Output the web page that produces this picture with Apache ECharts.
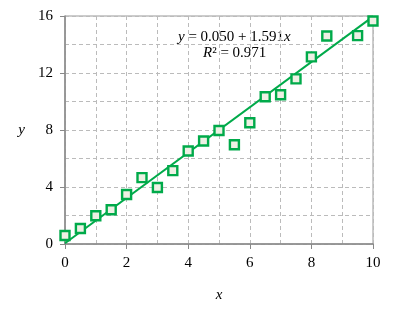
<!DOCTYPE html>
<html><head><meta charset="utf-8">
<script src="https://cdn.jsdelivr.net/npm/echarts@6/dist/echarts.min.js"></script>
<style>html,body{margin:0;padding:0;background:#fff}#c{width:396px;height:319px}</style>
</head><body><div id="c"></div>
<script>
const xValues = [0,0.5,1,1.5,2,2.5,3,3.5,4,4.5,5,5.5,6,6.5,7,7.5,8,8.5,9.5,10];
const yValues = [0.60,1.09,1.98,2.40,3.47,4.66,3.96,5.15,6.53,7.23,7.96,6.97,8.51,10.33,10.47,11.59,13.13,14.60,14.62,15.65];
const fitX = [0,10];
const fitY = [0.050,15.96];
const xTicks = [0,2,4,6,8,10];
const yTicks = [0,4,8,12,16];
const green = '#00aa4a';
const font = '"Liberation Serif","Times New Roman",serif';
const chart = echarts.init(document.getElementById('c'));
chart.setOption({
  animation:false,
  grid:{left:65,right:23,top:16,bottom:75,show:true,borderColor:'#999',borderWidth:1,backgroundColor:'transparent'},
  xAxis:{type:'value',min:0,max:10,interval:2,
    axisLine:{show:true,lineStyle:{color:'#888',width:1.5}},
    axisTick:{show:true,length:5,lineStyle:{color:'#888'}},
    axisLabel:{color:'#000',fontFamily:font,fontSize:15,margin:12,formatter:v=>xTicks.includes(v)?String(v):''},
    splitLine:{show:true,lineStyle:{color:'#bbb',type:[4,3]}},
    minorTick:{show:false,splitNumber:2},
    minorSplitLine:{show:true,lineStyle:{color:'#bbb',type:[4,3]}},
    name:'x',nameLocation:'middle',nameGap:44,nameTextStyle:{fontFamily:font,fontStyle:'italic',fontSize:15,color:'#000'}
  },
  yAxis:{type:'value',min:0,max:16,interval:4,
    axisLine:{show:true,lineStyle:{color:'#888',width:1.5}},
    axisTick:{show:true,length:5,lineStyle:{color:'#888'}},
    axisLabel:{color:'#000',fontFamily:font,fontSize:15,margin:12,formatter:v=>yTicks.includes(v)?String(v):''},
    splitLine:{show:true,lineStyle:{color:'#bbb',type:[4,3]}},
    minorTick:{show:false,splitNumber:2},
    minorSplitLine:{show:true,lineStyle:{color:'#bbb',type:[4,3]}},
    name:'y',nameLocation:'middle',nameGap:40,nameRotate:0,nameTextStyle:{fontFamily:font,fontStyle:'italic',fontSize:15,color:'#000'}
  },
  graphic:[
    {type:'text',x:178,y:30,style:{text:'{i|y} = 0.050 + 1.591{i|x}',rich:{i:{fontStyle:'italic',fontFamily:font,fontSize:15}},fontFamily:font,fontSize:15,fill:'#000'}},
    {type:'text',x:203,y:46,style:{text:'{i|R}² = 0.971',rich:{i:{fontStyle:'italic',fontFamily:font,fontSize:15}},fontFamily:font,fontSize:15,fill:'#000'}}
  ],
  series:[
    {type:'line',data:fitX.map((x,i)=>[x,fitY[i]]),symbol:'none',lineStyle:{color:green,width:2},z:2},
    {type:'scatter',data:xValues.map((x,i)=>[x,yValues[i]]),symbol:'rect',symbolSize:9,
      itemStyle:{color:'#eef0e4',borderColor:green,borderWidth:2.4,opacity:1},z:3}
  ]
});
</script></body></html>
